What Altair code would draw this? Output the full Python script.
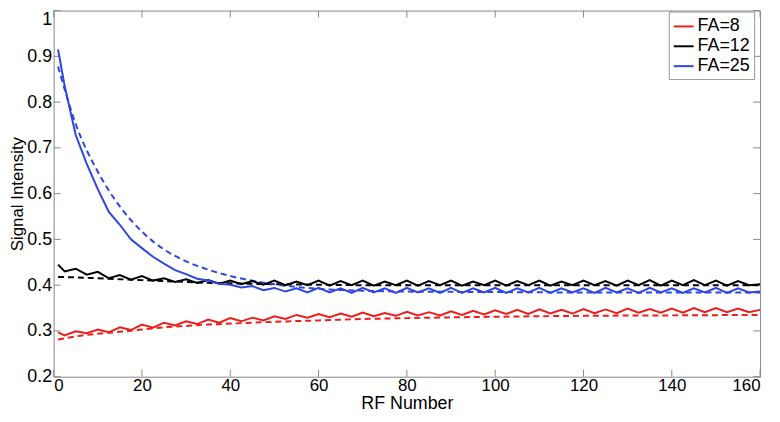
import altair as alt
import pandas as pd

series_names = ["FA=8", "FA=12", "FA=25"]
series_colors = ["#ee1d1d", "#000000", "#2d46e2"]

# measured (solid) curves
rf_solid = [1, 2.5, 5, 7.5, 10, 12.5, 15, 17.5, 20, 22.5, 25, 27.5, 30, 32.5, 35, 37.5, 40,
            42.5, 45, 47.5, 50, 52.5, 55, 57.5, 60, 62.5, 65, 67.5, 70, 72.5, 75, 77.5, 80,
            82.5, 85, 87.5, 90, 92.5, 95, 97.5, 100, 102.5, 105, 107.5, 110, 112.5, 115, 117.5, 120,
            122.5, 125, 127.5, 130, 132.5, 135, 137.5, 140, 142.5, 145, 147.5, 150, 152.5, 155, 157.5, 160]

fa8_measured = [0.297,
                0.290, 0.299, 0.295, 0.303, 0.297, 0.308, 0.302, 0.314,
                0.307, 0.318, 0.312, 0.321, 0.315, 0.325, 0.318, 0.328,
                0.321, 0.329, 0.323, 0.332, 0.326, 0.335, 0.329, 0.337,
                0.330, 0.338, 0.331, 0.340, 0.332, 0.339, 0.333, 0.342,
                0.334, 0.341, 0.334, 0.343, 0.335, 0.344, 0.336, 0.345,
                0.337, 0.346, 0.337, 0.347, 0.338, 0.346, 0.338, 0.348,
                0.339, 0.347, 0.339, 0.349, 0.340, 0.348, 0.340, 0.349,
                0.340, 0.350, 0.341, 0.350, 0.341, 0.349, 0.341, 0.346]

fa12_measured = [0.445,
                 0.430, 0.436, 0.423, 0.429, 0.415, 0.422, 0.412, 0.420,
                 0.410, 0.415, 0.407, 0.413, 0.405, 0.411, 0.403, 0.410,
                 0.402, 0.409, 0.401, 0.410, 0.400, 0.408, 0.400, 0.410,
                 0.399, 0.409, 0.400, 0.410, 0.399, 0.408, 0.400, 0.410,
                 0.399, 0.409, 0.400, 0.410, 0.399, 0.408, 0.400, 0.410,
                 0.399, 0.409, 0.400, 0.410, 0.399, 0.408, 0.400, 0.410,
                 0.400, 0.409, 0.399, 0.410, 0.400, 0.411, 0.399, 0.410,
                 0.400, 0.411, 0.400, 0.410, 0.399, 0.409, 0.400, 0.402]

fa25_measured = [0.915,
                 0.835, 0.728, 0.665, 0.610, 0.560, 0.532, 0.500, 0.481,
                 0.462, 0.447, 0.433, 0.424, 0.414, 0.410, 0.403, 0.401,
                 0.395, 0.398, 0.389, 0.394, 0.386, 0.393, 0.384, 0.394,
                 0.384, 0.393, 0.383, 0.394, 0.384, 0.393, 0.383, 0.394,
                 0.384, 0.393, 0.383, 0.394, 0.383, 0.393, 0.384, 0.394,
                 0.383, 0.393, 0.384, 0.394, 0.383, 0.393, 0.384, 0.393,
                 0.383, 0.394, 0.384, 0.393, 0.383, 0.394, 0.384, 0.393,
                 0.383, 0.393, 0.384, 0.394, 0.383, 0.393, 0.384, 0.386]

# model (dashed) curves
rf_model = [1, 5, 10, 15, 20, 25, 30, 35, 40, 50, 60, 70, 80, 100, 120, 140, 160]
fa8_model = [0.281, 0.288, 0.294, 0.298, 0.303, 0.308, 0.311, 0.314, 0.316, 0.320, 0.323,
             0.326, 0.328, 0.331, 0.333, 0.334, 0.335]
fa12_model = [0.418, 0.417, 0.415, 0.413, 0.411, 0.409, 0.407, 0.405, 0.404, 0.402, 0.401,
              0.400, 0.400, 0.400, 0.400, 0.400, 0.400]
fa25_model = [0.878, 0.752, 0.648, 0.572, 0.517, 0.478, 0.452, 0.434, 0.420, 0.402, 0.392,
              0.388, 0.386, 0.385, 0.384, 0.384, 0.384]

x_ticks = [0, 20, 40, 60, 80, 100, 120, 140, 160]
y_ticks = [0.2, 0.3, 0.4, 0.5, 0.6, 0.7, 0.8, 0.9, 1.0]

W, H = 712, 369
TICK = 7

solid_rows = []
for name, vals in zip(series_names, [fa8_measured, fa12_measured, fa25_measured]):
    for x, y in zip(rf_solid, vals):
        solid_rows.append({"x": x, "y": y, "series": name})
df_solid = pd.DataFrame(solid_rows)

model_rows = []
for name, vals in zip(series_names, [fa8_model, fa12_model, fa25_model]):
    for x, y in zip(rf_model, vals):
        model_rows.append({"x": x, "y": y, "series": name})
df_model = pd.DataFrame(model_rows)

df_xt = pd.DataFrame({"x": x_ticks})
df_yt = pd.DataFrame({"y": y_ticks})

x_axis = alt.Axis(values=x_ticks, title="RF Number", grid=False, ticks=False, domain=False,
                  labelFontSize=17, titleFontSize=18, titleFontWeight="normal",
                  labelPadding=1, titleY=32, titleBaseline="alphabetic",
                  labelColor="#000", titleColor="#000")
y_axis = alt.Axis(values=y_ticks, title="Signal Intensity", grid=False, ticks=False, domain=False,
                  format=".1~f", labelFontSize=18, titleFontSize=17, titleFontWeight="normal",
                  labelPadding=2, titleX=-36, titleBaseline="middle",
                  labelBaseline={"condition": {"test": "datum.value >= 0.99", "value": "top"},
                                 "value": "middle"},
                  labelColor="#000", titleColor="#000")

x_enc = alt.X("x:Q", scale=alt.Scale(domain=[0, 160], nice=False), axis=x_axis)
y_enc = alt.Y("y:Q", scale=alt.Scale(domain=[0.2, 1.0], nice=False), axis=y_axis)

color_scale = alt.Scale(domain=series_names, range=series_colors)
legend = alt.Legend(title=None, orient="none", legendX=620, legendY=1,
                    fillColor="white", strokeColor="#999", padding=4,
                    labelFontSize=18, labelColor="#000", symbolType="stroke",
                    symbolStrokeWidth=2, symbolSize=400, rowPadding=0,
                    labelOffset=3)
color_enc = alt.Color("series:N", scale=color_scale, sort=series_names, legend=legend)

solid = alt.Chart(df_solid).mark_line(strokeWidth=2).encode(
    x=x_enc, y=y_enc, color=color_enc,
)

model = alt.Chart(df_model).mark_line(strokeWidth=2, strokeDash=[6, 4], interpolate="monotone").encode(
    x=x_enc, y=y_enc, color=color_enc,
)

tick_color = "#888"
bottom_ticks = alt.Chart(df_xt).mark_rule(color=tick_color).encode(
    x=x_enc, y=alt.value(H - TICK), y2=alt.value(H))
top_ticks = alt.Chart(df_xt).mark_rule(color=tick_color).encode(
    x=x_enc, y=alt.value(0), y2=alt.value(TICK))
left_ticks = alt.Chart(df_yt).mark_rule(color=tick_color).encode(
    y=y_enc, x=alt.value(0), x2=alt.value(TICK))
right_ticks = alt.Chart(df_yt).mark_rule(color=tick_color).encode(
    y=y_enc, x=alt.value(W - TICK), x2=alt.value(W))

chart = alt.layer(bottom_ticks, top_ticks, left_ticks, right_ticks, model, solid).properties(
    width=W, height=H,
    autosize=alt.AutoSizeParams(type="none"),
    padding={"left": 46, "top": 1, "right": 12, "bottom": 36},
).configure(font="Liberation Sans").configure_view(stroke="#888", strokeWidth=1)

chart.save("out.html", embed_options={"renderer": "svg", "actions": False})
